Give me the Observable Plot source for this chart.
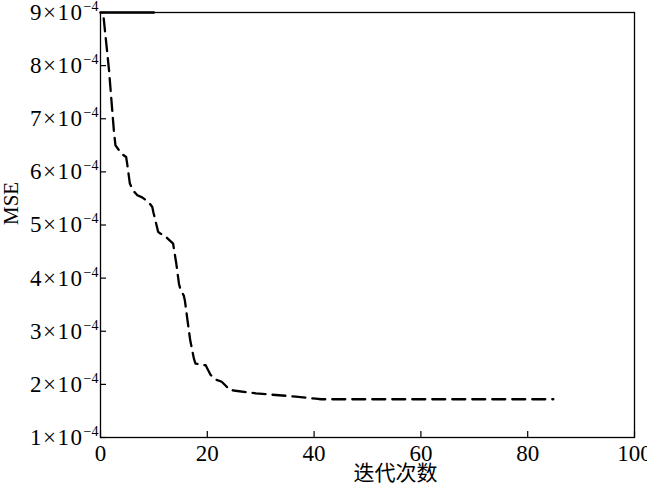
<!DOCTYPE html>
<html>
<head>
<meta charset="utf-8">
<script src="https://cdn.jsdelivr.net/npm/d3@7"></script>
<script src="https://cdn.jsdelivr.net/npm/@observablehq/plot@0.6"></script>
<style>
  html, body { margin: 0; padding: 0; background: #fff; overflow: hidden; }
</style>
</head>
<body>
<div id="chart"></div>
<script>
// iteration number and MSE (in units of 1e-4)
const iterX = [0.6, 1.6, 2.5, 2.8, 3.3, 4.1, 4.8, 5.0, 5.5, 6.1, 6.9, 7.8, 9.0, 9.7, 9.9, 10.8, 11.2, 12.0, 13.6, 13.8, 14.2, 14.7, 15.0, 15.6, 15.8, 16.3, 16.8, 17.5, 17.8, 19.7, 20.0, 20.6, 21.6, 22.7, 23.5, 24.1, 25.3, 29.1, 32.8, 36.6, 40.3, 41.3, 84.8];
const mseE4 = [8.89, 7.91, 6.78, 6.50, 6.43, 6.33, 6.28, 6.15, 5.78, 5.65, 5.56, 5.52, 5.43, 5.34, 5.24, 4.87, 4.84, 4.80, 4.65, 4.52, 4.27, 3.89, 3.78, 3.67, 3.58, 3.20, 2.83, 2.48, 2.39, 2.36, 2.30, 2.18, 2.09, 2.05, 1.97, 1.90, 1.88, 1.83, 1.80, 1.77, 1.73, 1.72, 1.72];
// short solid segment along the top edge
const topSegX = [0, 10];
const topSegY = [9, 9];
const xTicks = [0, 20, 40, 60, 80, 100];
const yTicks = [1, 2, 3, 4, 5, 6, 7, 8, 9];
const xLabel = "迭代次数";
const yLabel = "MSE";
const exponent = "−4";

const curve = iterX.map((x, i) => ({x, y: mseE4[i]}));
const topSeg = topSegX.map((x, i) => ({x, y: topSegY[i]}));

const serif = "'Liberation Serif', 'Times New Roman', serif";

const plot = Plot.plot({
  width: 647,
  height: 491,
  marginLeft: 100,
  marginRight: 13,
  marginTop: 12,
  marginBottom: 54,
  style: {fontFamily: serif, fontSize: "23px", background: "#fff", color: "#000"},
  x: {domain: [0, 100]},
  y: {domain: [1, 9]},
  marks: [
    Plot.frame({stroke: "#000", strokeWidth: 1.3}),
    Plot.axisX({ticks: xTicks, tickSize: -6, tickPadding: 13, label: null, stroke: "#000", strokeWidth: 1.2, fontSize: 23, fontFamily: serif, fill: "#000"}),
    Plot.axisY({ticks: yTicks, tickSize: -6, tickPadding: 8, label: null, tickFormat: d => `${d}×10`, stroke: "#000", strokeWidth: 1.2, fontSize: 23, fontFamily: serif, fill: "#000"}),
    Plot.line(topSeg, {x: "x", y: "y", stroke: "#000", strokeWidth: 2.5}),
    Plot.line(curve, {x: "x", y: "y", stroke: "#000", strokeWidth: 2.3, strokeDasharray: "13,7"}),
    Plot.text([xLabel], {text: d => d, frameAnchor: "bottom", dy: 42, dx: 28, fontFamily: "'Noto Sans CJK SC'", fontSize: 21, fill: "#000"}),
    Plot.text([yLabel], {text: d => d, frameAnchor: "left", dx: -89, rotate: -90, fontSize: 21, fontFamily: serif, fill: "#000"})
  ]
});

document.getElementById("chart").appendChild(plot);

// add superscript exponent to y tick labels
d3.select(plot).selectAll('g[aria-label="y-axis tick label"] text').each(function() {
  const t = d3.select(this);
  t.attr("letter-spacing", "1.5px");
  t.append("tspan").attr("font-size", 14).attr("dy", -9).attr("letter-spacing", "0px").text(exponent);
});
</script>
</body>
</html>
